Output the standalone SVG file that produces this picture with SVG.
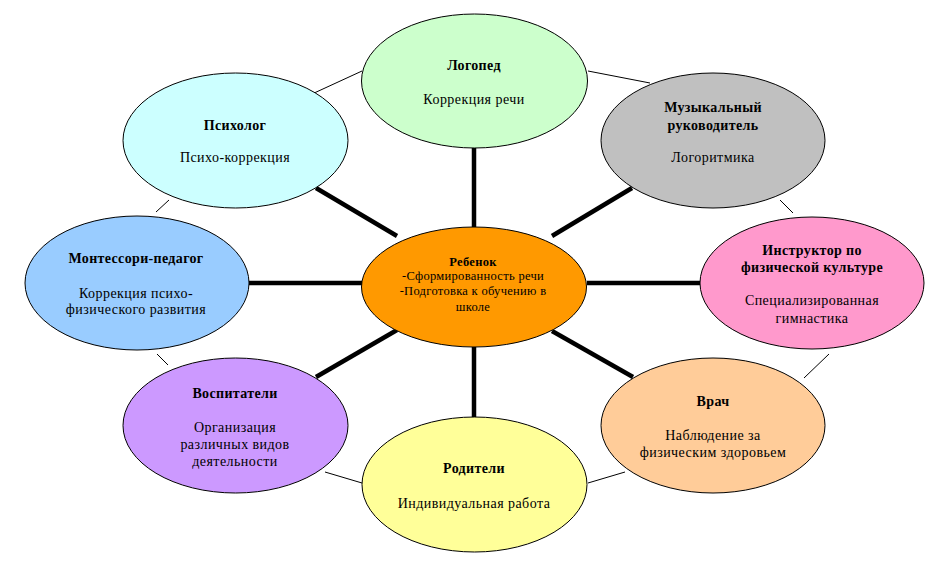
<svg xmlns="http://www.w3.org/2000/svg" width="949" height="567" viewBox="0 0 949 567">
<style>
.n{stroke:#000;stroke-width:1}
text{font-family:"Liberation Serif","Times New Roman",serif;font-size:14px;fill:#000;text-anchor:middle;letter-spacing:0.45px}
.b{font-weight:bold;letter-spacing:0.35px}
.s{font-size:12.5px;letter-spacing:0.3px}
.thick{stroke:#000;stroke-width:4.5;fill:none}
.thin{stroke:#000;stroke-width:1;fill:none}
</style>
<rect width="949" height="567" fill="#fff"/>
<g id="connectors">
<line class="thin" x1="312" y1="94" x2="362" y2="71"/>
<line class="thin" x1="588" y1="71" x2="650" y2="83"/>
<line class="thin" x1="780" y1="200" x2="793" y2="213"/>
<line class="thin" x1="829" y1="354" x2="804" y2="378"/>
<line class="thin" x1="625" y1="472" x2="588" y2="483"/>
<line class="thin" x1="325" y1="472" x2="362" y2="483"/>
<line class="thin" x1="157" y1="354" x2="168" y2="365"/>
<line class="thin" x1="156" y1="212" x2="169" y2="200"/>
<line class="thick" x1="474" y1="148" x2="474" y2="227"/>
<line class="thick" x1="474" y1="347" x2="474" y2="418"/>
<line class="thick" x1="249" y1="283" x2="362" y2="283"/>
<line class="thick" x1="587" y1="283" x2="700" y2="283"/>
<line class="thick" x1="316" y1="188" x2="397" y2="236"/>
<line class="thick" x1="632" y1="188" x2="552" y2="236"/>
<line class="thick" x1="316" y1="377" x2="397" y2="330"/>
<line class="thick" x1="633" y1="377" x2="552" y2="331"/>
</g>
<g id="logoped">
<ellipse class="n" cx="474.5" cy="81" rx="113" ry="67" fill="#CCFFCC"/>
<text class="b" x="474" y="70">Логопед</text>
<text x="474" y="104">Коррекция речи</text>
</g>
<g id="psiholog">
<ellipse class="n" cx="235.5" cy="140.5" rx="112.5" ry="67.5" fill="#CCFFFF"/>
<text class="b" x="235" y="130">Психолог</text>
<text x="235" y="162">Психо-коррекция</text>
</g>
<g id="muzykalny">
<ellipse class="n" cx="713" cy="140.5" rx="112" ry="67.5" fill="#C0C0C0"/>
<text class="b" x="713" y="112">Музыкальный</text>
<text class="b" x="713" y="130">руководитель</text>
<text x="713" y="162">Логоритмика</text>
</g>
<g id="instruktor">
<ellipse class="n" cx="812" cy="283" rx="112" ry="66" fill="#FF99CC"/>
<text class="b" x="812" y="255">Инструктор по</text>
<text class="b" x="812" y="272">физической культуре</text>
<text x="812" y="305">Специализированная</text>
<text x="812" y="323">гимнастика</text>
</g>
<g id="rebenok">
<ellipse class="n" cx="474" cy="287" rx="112.5" ry="60" fill="#FF9900"/>
<text class="b s" x="473" y="266">Ребенок</text>
<text class="s" x="473" y="280">-Сформированность речи</text>
<text class="s" x="473" y="295">-Подготовка к обучению в</text>
<text class="s" x="473" y="311">школе</text>
</g>
<g id="montessori">
<ellipse class="n" cx="137" cy="283" rx="112" ry="67" fill="#99CCFF"/>
<text class="b" x="136" y="263">Монтессори-педагог</text>
<text x="136" y="298">Коррекция психо-</text>
<text x="136" y="314">физического развития</text>
</g>
<g id="vospitateli">
<ellipse class="n" cx="235.5" cy="425.5" rx="112.5" ry="67.5" fill="#CC99FF"/>
<text class="b" x="235" y="398">Воспитатели</text>
<text x="235" y="432">Организация</text>
<text x="235" y="449">различных видов</text>
<text x="235" y="466">деятельности</text>
</g>
<g id="roditeli">
<ellipse class="n" cx="474.5" cy="484.5" rx="112.5" ry="67.5" fill="#FFFF99"/>
<text class="b" x="474" y="473">Родители</text>
<text x="474" y="508">Индивидуальная работа</text>
</g>
<g id="vrach">
<ellipse class="n" cx="713" cy="425.5" rx="112" ry="67.5" fill="#FFCC99"/>
<text class="b" x="713" y="406">Врач</text>
<text x="713" y="440">Наблюдение за</text>
<text x="713" y="457">физическим здоровьем</text>
</g>
</svg>
